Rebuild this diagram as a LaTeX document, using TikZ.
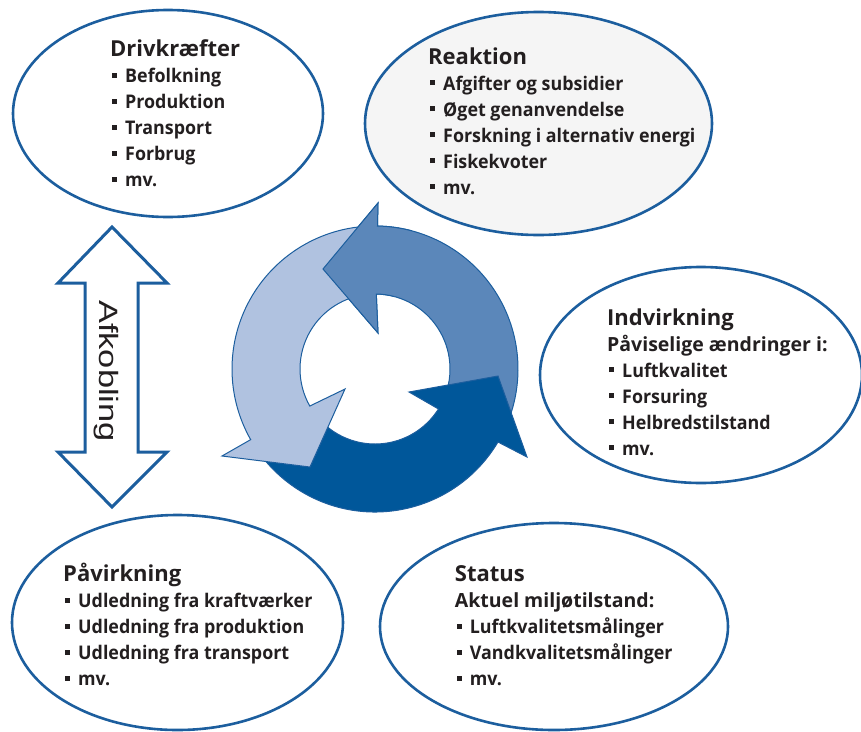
\documentclass[tikz,border=0pt]{standalone}
\usepackage{fontspec}
\usepackage{graphicx}
\setmainfont{Open Sans}
\newfontfamily\itemfont{Open Sans}[FakeStretch=0.95]
\newfontfamily\afkfont{Liberation Sans}
\usetikzlibrary{shapes.geometric}
\definecolor{eblue}{HTML}{1C5E9E}
\definecolor{txt}{HTML}{231F20}
\definecolor{ringlight}{HTML}{B0C2E0}
\definecolor{ringmid}{HTML}{5B87BA}
\definecolor{ringdark}{HTML}{00579A}
\definecolor{efill}{HTML}{F5F5F5}
\newcommand{\bul}{\makebox[13pt][l]{\rule[5pt]{5pt}{5pt}}}
\newcommand{\ttl}[1]{\hbox{\kern-2pt\rmfamily\bfseries\fontsize{22}{26}\selectfont #1}}
\newcommand{\sub}[1]{\hbox{\kern-2pt\rmfamily\bfseries\fontsize{19.5}{26}\selectfont #1}}
\newcommand{\itm}[1]{\hbox{\bul #1}}
\begin{document}
\begin{tikzpicture}[x=1pt,y=-1pt,
  bubble/.style={ellipse, draw=eblue, line width=2.6pt, fill=white, inner sep=0pt},
  bubbletext/.style={anchor=base west, inner sep=0pt, text=txt, font=\itemfont\fontsize{18.8}{26}\selectfont\bfseries},
  ringpart/.style={draw=eblue, line width=1pt, line join=miter}]
\useasboundingbox (0,0) rectangle (861,731);

% ellipses
\node[bubble, minimum width=310pt, minimum height=207pt] (drv) at (168,113.5) {};
\node[bubble, fill=efill, minimum width=347pt, minimum height=223pt] (rea) at (538.5,123.5) {};
\node[bubble, minimum width=322pt, minimum height=216pt] (ind) at (701,375) {};
\node[bubble, minimum width=331pt, minimum height=215pt] (pav) at (177.5,622.5) {};
\node[bubble, minimum width=348pt, minimum height=207pt] (sta) at (554,626.5) {};

% texts
\node[bubbletext] (drvtxt) at (112,56.7) {\vtop{\ttl{Drivkræfter}\itm{Befolkning}\itm{Produktion}\itm{Transport}\itm{Forbrug}\itm{mv.}}};
\node[bubbletext] (reatxt) at (430,64) {\vtop{\ttl{Reaktion}\itm{Afgifter og subsidier}\itm{Øget genanvendelse}\itm{Forskning i alternativ energi}\itm{Fiskekvoter}\itm{mv.}}};
\node[bubbletext] (indtxt) at (609,325) {\vtop{\ttl{Indvirkning}\sub{Påviselige ændringer i:}\itm{Luftkvalitet}\itm{Forsuring}\itm{Helbredstilstand}\itm{mv.}}};
\node[bubbletext] (pavtxt) at (65,581.7) {\vtop{\ttl{Påvirkning}\itm{Udledning fra kraftværker}\itm{Udledning fra produktion}\itm{Udledning fra transport}\itm{mv.}}};
\node[bubbletext] (statxt) at (456.7,581.7) {\vtop{\ttl{Status}\sub{Aktuel miljøtilstand:}\itm{Luftkvalitetsmålinger}\itm{Vandkvalitetsmålinger}\itm{mv.}}};

% decoupling double arrow
\draw[eblue, line width=3pt, fill=white, line join=miter]
  (112,227) -- (167,283) -- (138,283) -- (138,452) -- (167,452) -- (112,507)
  -- (58,452) -- (85,452) -- (85,283) -- (58,283) -- cycle;
\node[rotate=-90, anchor=base, inner sep=0pt, text=txt,
  font=\afkfont\fontsize{26.5}{30}\selectfont] (afk) at (99,371) {\scalebox{1.3}[1]{Afkobling}};

% cycle
\begin{scope}[shift={(375,369)}, y=1pt]
  \path[ringpart, fill=ringmid]
    (335:143) arc[start angle=335, end angle=449, radius=143]
    -- (3,166) -- (-52,100) -- (3,36)
    -- (89:75) arc[start angle=89, end angle=-25, radius=75] -- cycle;
  \path[ringpart, fill=ringdark]
    (214:75) arc[start angle=214, end angle=327.8, radius=75]
    -- (34,-23) -- (123,-7) -- (152,-88)
    -- (329.3:143) arc[start angle=329.3, end angle=214, radius=143] -- cycle;
  \path[ringpart, fill=ringlight]
    (95:143) arc[start angle=95, end angle=209.6, radius=143]
    -- (-153,-87) -- (-65,-98) -- (-30,-20)
    -- (209.6:75) arc[start angle=209.6, end angle=95, radius=75] -- cycle;
  \fill[ringmid]
    (75:143) arc[start angle=75, end angle=89, radius=143]
    -- (3,166) -- (-52,100) -- (3,36)
    -- (89:75) arc[start angle=89, end angle=75, radius=75] -- cycle;
  \path[ringpart]
    (75:143) arc[start angle=75, end angle=89, radius=143]
    -- (3,166) -- (-52,100) -- (3,36)
    -- (89:75) arc[start angle=89, end angle=75, radius=75];
\end{scope}
\end{tikzpicture}
\end{document}
